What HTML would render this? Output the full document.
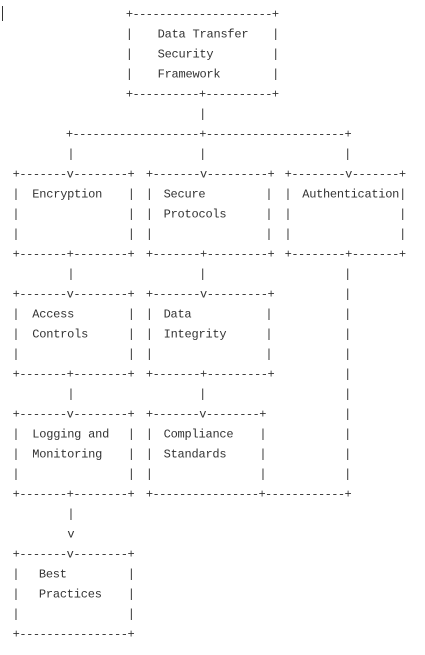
<!DOCTYPE html>
<html><head><meta charset="utf-8"><style>
html,body{margin:0;padding:0;background:#fff;}
svg{display:block}
text{font-family:"Liberation Mono",monospace;font-size:12px;fill:#333;}
.c{text-anchor:middle}
</style></head><body>
<svg width="425" height="655" viewBox="0 0 425 655" xmlns="http://www.w3.org/2000/svg">
<line x1="2.5" y1="6" x2="2.5" y2="21" stroke="#333" stroke-width="1"/>
<!-- top box -->
<text x="125.9" y="17.5" textLength="153.2" lengthAdjust="spacing">+---------------------+</text>
<text class="c" x="129.3" y="37.5">|</text><text x="157.6" y="37.5" textLength="91" lengthAdjust="spacing">Data Transfer</text><text class="c" x="275.7" y="37.5">|</text>
<text class="c" x="129.3" y="57.5">|</text><text x="157.6" y="57.5" textLength="56" lengthAdjust="spacing">Security</text><text class="c" x="275.7" y="57.5">|</text>
<text class="c" x="129.3" y="77.5">|</text><text x="157.6" y="77.5" textLength="63" lengthAdjust="spacing">Framework</text><text class="c" x="275.7" y="77.5">|</text>
<text x="125.9" y="97.5" textLength="153.2" lengthAdjust="spacing">+----------+----------+</text>
<text class="c" x="202.7" y="117.5">|</text>
<text x="65.9" y="137.5" textLength="133.4" lengthAdjust="spacing">+-------------------</text>
<text x="199.3" y="137.5" textLength="152.4" lengthAdjust="spacing">+---------------------+</text>
<text class="c" x="71" y="157.5">|</text><text class="c" x="202.7" y="157.5">|</text><text class="c" x="347.7" y="157.5">|</text>
<!-- row 2 boxes -->
<text x="12.6" y="177.5" textLength="122.1" lengthAdjust="spacing">+-------v--------+</text>
<text x="145.9" y="177.5" textLength="128.8" lengthAdjust="spacing">+-------v---------+</text>
<text x="284.6" y="177.5" textLength="121.5" lengthAdjust="spacing">+--------v-------+</text>

<text class="c" x="16" y="197.5">|</text><text x="32.3" y="197.5" textLength="70" lengthAdjust="spacing">Encryption</text><text class="c" x="131.3" y="197.5">|</text>
<text class="c" x="149.3" y="197.5">|</text><text x="163.6" y="197.5" textLength="42" lengthAdjust="spacing">Secure</text><text class="c" x="269" y="197.5">|</text>
<text class="c" x="288" y="197.5">|</text><text x="302.3" y="197.5" textLength="97" lengthAdjust="spacing">Authentication</text><text class="c" x="402.7" y="197.5">|</text>

<text class="c" x="16" y="217.5">|</text><text class="c" x="131.3" y="217.5">|</text>
<text class="c" x="149.3" y="217.5">|</text><text x="163.6" y="217.5" textLength="63" lengthAdjust="spacing">Protocols</text><text class="c" x="269" y="217.5">|</text>
<text class="c" x="288" y="217.5">|</text><text class="c" x="402.7" y="217.5">|</text>

<text class="c" x="16" y="237.5">|</text><text class="c" x="131.3" y="237.5">|</text>
<text class="c" x="149.3" y="237.5">|</text><text class="c" x="269" y="237.5">|</text>
<text class="c" x="288" y="237.5">|</text><text class="c" x="402.7" y="237.5">|</text>

<text x="12.6" y="257.5" textLength="122.1" lengthAdjust="spacing">+-------+--------+</text>
<text x="145.9" y="257.5" textLength="128.8" lengthAdjust="spacing">+-------+---------+</text>
<text x="284.6" y="257.5" textLength="121.5" lengthAdjust="spacing">+--------+-------+</text>
<text class="c" x="71" y="277.5">|</text><text class="c" x="202.7" y="277.5">|</text><text class="c" x="347.7" y="277.5">|</text>
<!-- row 3 -->
<text x="12.6" y="297.5" textLength="122.1" lengthAdjust="spacing">+-------v--------+</text>
<text x="145.9" y="297.5" textLength="128.8" lengthAdjust="spacing">+-------v---------+</text>
<text class="c" x="347.7" y="297.5">|</text>

<text class="c" x="16" y="317.5">|</text><text x="32.3" y="317.5" textLength="42" lengthAdjust="spacing">Access</text><text class="c" x="131.3" y="317.5">|</text>
<text class="c" x="149.3" y="317.5">|</text><text x="163.6" y="317.5" textLength="28" lengthAdjust="spacing">Data</text><text class="c" x="269" y="317.5">|</text>
<text class="c" x="347.7" y="317.5">|</text>

<text class="c" x="16" y="337.5">|</text><text x="32.3" y="337.5" textLength="56" lengthAdjust="spacing">Controls</text><text class="c" x="131.3" y="337.5">|</text>
<text class="c" x="149.3" y="337.5">|</text><text x="163.6" y="337.5" textLength="63" lengthAdjust="spacing">Integrity</text><text class="c" x="269" y="337.5">|</text>
<text class="c" x="347.7" y="337.5">|</text>

<text class="c" x="16" y="357.5">|</text><text class="c" x="131.3" y="357.5">|</text>
<text class="c" x="149.3" y="357.5">|</text><text class="c" x="269" y="357.5">|</text>
<text class="c" x="347.7" y="357.5">|</text>

<text x="12.6" y="377.5" textLength="122.1" lengthAdjust="spacing">+-------+--------+</text>
<text x="145.9" y="377.5" textLength="128.8" lengthAdjust="spacing">+-------+---------+</text>
<text class="c" x="347.7" y="377.5">|</text>
<text class="c" x="71" y="397.5">|</text><text class="c" x="202.7" y="397.5">|</text><text class="c" x="347.7" y="397.5">|</text>
<!-- row 4 -->
<text x="12.6" y="417.5" textLength="122.1" lengthAdjust="spacing">+-------v--------+</text>
<text x="145.9" y="417.5" textLength="120.5" lengthAdjust="spacing">+-------v--------+</text>
<text class="c" x="347.7" y="417.5">|</text>

<text class="c" x="16" y="437.5">|</text><text x="32.3" y="437.5" textLength="77" lengthAdjust="spacing">Logging and</text><text class="c" x="131.3" y="437.5">|</text>
<text class="c" x="149.3" y="437.5">|</text><text x="163.6" y="437.5" textLength="70" lengthAdjust="spacing">Compliance</text><text class="c" x="263" y="437.5">|</text>
<text class="c" x="347.7" y="437.5">|</text>

<text class="c" x="16" y="457.5">|</text><text x="32.3" y="457.5" textLength="70" lengthAdjust="spacing">Monitoring</text><text class="c" x="131.3" y="457.5">|</text>
<text class="c" x="149.3" y="457.5">|</text><text x="163.6" y="457.5" textLength="63" lengthAdjust="spacing">Standards</text><text class="c" x="263" y="457.5">|</text>
<text class="c" x="347.7" y="457.5">|</text>

<text class="c" x="16" y="477.5">|</text><text class="c" x="131.3" y="477.5">|</text>
<text class="c" x="149.3" y="477.5">|</text><text class="c" x="263" y="477.5">|</text>
<text class="c" x="347.7" y="477.5">|</text>

<text x="12.6" y="497.5" textLength="122.1" lengthAdjust="spacing">+-------+--------+</text>
<text x="145.9" y="497.5" textLength="205.8" lengthAdjust="spacing">+----------------+------------+</text>
<text class="c" x="71" y="517.5">|</text>
<text class="c" x="71" y="537.5">v</text>
<!-- best practices -->
<text x="12.6" y="557.5" textLength="122.1" lengthAdjust="spacing">+-------v--------+</text>
<text class="c" x="16" y="577.5">|</text><text x="38.9" y="577.5" textLength="28" lengthAdjust="spacing">Best</text><text class="c" x="131.3" y="577.5">|</text>
<text class="c" x="16" y="597.5">|</text><text x="38.9" y="597.5" textLength="63" lengthAdjust="spacing">Practices</text><text class="c" x="131.3" y="597.5">|</text>
<text class="c" x="16" y="617.5">|</text><text class="c" x="131.3" y="617.5">|</text>
<text x="12.6" y="637.5" textLength="122.1" lengthAdjust="spacing">+----------------+</text>
</svg>
</body></html>
